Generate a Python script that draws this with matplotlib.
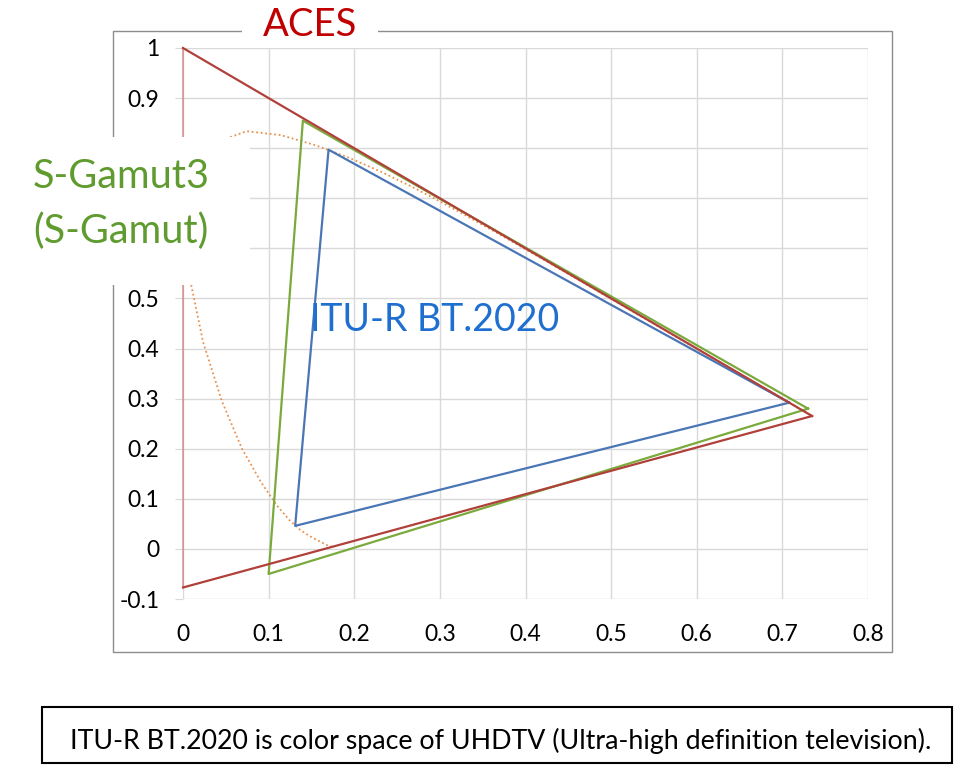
import matplotlib
matplotlib.use("Agg")
import matplotlib.pyplot as plt
from matplotlib.patches import Rectangle
from matplotlib.ticker import FuncFormatter

# gamut primaries (x, y), closed triangles: R, G, B, R
aces_x = [0.7347, 0.0, 0.0001, 0.7347]
aces_y = [0.2653, 1.0, -0.0770, 0.2653]
sgamut3_x = [0.730, 0.140, 0.100, 0.730]
sgamut3_y = [0.280, 0.855, -0.050, 0.280]
bt2020_x = [0.708, 0.170, 0.131, 0.708]
bt2020_y = [0.292, 0.797, 0.046, 0.292]

# CIE 1931 spectral locus, 380-700 nm every 5 nm
locus_x = [0.1741, 0.1740, 0.1738, 0.1736, 0.1733, 0.1730, 0.1726, 0.1721, 0.1714, 0.1703,
           0.1689, 0.1669, 0.1644, 0.1611, 0.1566, 0.1510, 0.1440, 0.1355, 0.1241, 0.1096,
           0.0913, 0.0687, 0.0454, 0.0235, 0.0082, 0.0039, 0.0139, 0.0389, 0.0743, 0.1142,
           0.1547, 0.1929, 0.2296, 0.2658, 0.3016, 0.3373, 0.3731, 0.4087, 0.4441, 0.4788,
           0.5125, 0.5448, 0.5752, 0.6029, 0.6270, 0.6482, 0.6658, 0.6801, 0.6915, 0.7006,
           0.7079, 0.7140, 0.7190, 0.7230, 0.7260, 0.7283, 0.7300, 0.7311, 0.7320, 0.7327,
           0.7334, 0.7340, 0.7344, 0.7346, 0.7347]
locus_y = [0.0050, 0.0050, 0.0049, 0.0049, 0.0048, 0.0048, 0.0048, 0.0048, 0.0051, 0.0058,
           0.0069, 0.0086, 0.0109, 0.0138, 0.0177, 0.0227, 0.0297, 0.0399, 0.0578, 0.0868,
           0.1327, 0.2007, 0.2950, 0.4127, 0.5384, 0.6548, 0.7502, 0.8120, 0.8338, 0.8262,
           0.8059, 0.7816, 0.7543, 0.7243, 0.6923, 0.6589, 0.6245, 0.5896, 0.5547, 0.5202,
           0.4866, 0.4544, 0.4242, 0.3965, 0.3725, 0.3514, 0.3340, 0.3197, 0.3083, 0.2993,
           0.2920, 0.2859, 0.2809, 0.2770, 0.2740, 0.2717, 0.2700, 0.2689, 0.2680, 0.2673,
           0.2666, 0.2660, 0.2656, 0.2654, 0.2653]

x_ticks = [0, 0.1, 0.2, 0.3, 0.4, 0.5, 0.6, 0.7, 0.8]
y_ticks = [-0.1, 0, 0.1, 0.2, 0.3, 0.4, 0.5, 0.6, 0.7, 0.8, 0.9, 1]
# 0.6-0.8 sit under the S-Gamut3 label box in the original
y_hidden = [0.6, 0.7, 0.8]

W, H = 979, 769
narrow = ['Liberation Sans Narrow', 'DejaVu Sans Condensed', 'Lato']

fig = plt.figure(figsize=(W / 100, H / 100), dpi=100)

def fx(px):
    return px / W

def fy(py):
    return 1 - py / H

def ylab(v, p):
    v = round(v, 2)
    return '' if v in y_hidden else '%g' % v

ax = fig.add_axes([fx(183), fy(599), (868 - 183) / W, (599 - 48) / H])
ax.set_xlim(0, 0.8)
ax.set_ylim(-0.1, 1)
ax.set_xticks(x_ticks)
ax.set_yticks(y_ticks)
ax.xaxis.set_major_formatter(FuncFormatter(lambda v, p: '%g' % round(v, 2)))
ax.yaxis.set_major_formatter(FuncFormatter(ylab))
ax.grid(True, color='#d9d9d9', lw=1)
ax.set_axisbelow(True)
for s in ax.spines.values():
    s.set_visible(False)
ax.tick_params(axis='y', length=6, color='#d9d9d9', pad=11, labelsize=16.5)
ax.tick_params(axis='x', length=0, pad=18, labelsize=16.5)
for lab in ax.get_yticklabels():
    lab.set_family('Lato')
for lab in ax.get_xticklabels():
    lab.set_family(narrow)

ax.plot(locus_x, locus_y, color='#e8914f', lw=1.3, ls=(0, (1, 1.5)), clip_on=False)
ax.plot(bt2020_x, bt2020_y, color='#4a76b5', lw=1.6, clip_on=False)
ax.plot(sgamut3_x, sgamut3_y, color='#7aaa3c', lw=1.6, clip_on=False)
# ACES: the green-blue edge looks thinner / paler in the original
ax.plot(aces_x[1:3], aces_y[1:3], color='#d48a86', lw=1.1, clip_on=False)
ax.plot(aces_x[:2], aces_y[:2], color='#b0403a', lw=1.6, clip_on=False)
ax.plot(aces_x[2:], aces_y[2:], color='#b0403a', lw=1.6, clip_on=False)

# outer chart frame
fig.patches.append(Rectangle((fx(113), fy(652)), (892 - 113) / W, (652 - 31) / H,
                             transform=fig.transFigure, fill=False, ec='#8c8c8c', lw=1, zorder=1))
# white label boxes
fig.patches.append(Rectangle((fx(242), fy(48)), (378 - 242) / W, 48 / H,
                             transform=fig.transFigure, fc='white', ec='none', zorder=2))
fig.patches.append(Rectangle((fx(0), fy(285)), 250 / W, (285 - 137) / H,
                             transform=fig.transFigure, fc='white', ec='none', zorder=2))

fig.text(fx(310), fy(25), 'ACES', color='#c00000', fontsize=27.5, family='Lato',
         ha='center', va='center', zorder=4)
fig.text(fx(33), fy(176), 'S-Gamut3', color='#5f9b2f', fontsize=28.5, family='Lato',
         ha='left', va='center', zorder=4)
fig.text(fx(33), fy(231), '(S-Gamut)', color='#5f9b2f', fontsize=28.5, family='Lato',
         ha='left', va='center', zorder=4)
fig.text(fx(310), fy(320), 'ITU-R BT.2020', color='#1f6fd0', fontsize=27, family='Lato',
         ha='left', va='center', zorder=4)

# caption box
fig.patches.append(Rectangle((fx(42), fy(763)), (952 - 42) / W, (763 - 707) / H,
                             transform=fig.transFigure, fill=False, ec='black', lw=1.5, zorder=1))
fig.text(fx(501), fy(741), 'ITU-R BT.2020 is color space of UHDTV (Ultra-high definition television).',
         fontsize=19.3, family=narrow, ha='center', va='center')

fig.savefig('out.png', dpi=100)
